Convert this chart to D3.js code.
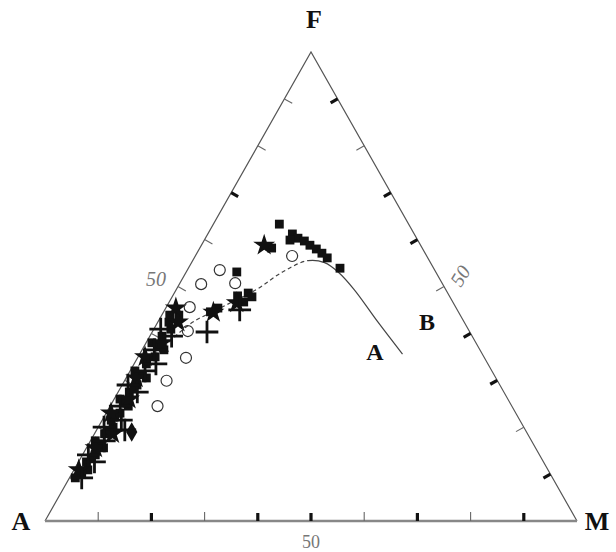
<!DOCTYPE html>
<html><head><meta charset="utf-8">
<script src="https://cdn.jsdelivr.net/npm/d3@7"></script>
<style>body{margin:0;background:#fff}svg{display:block}</style>
</head><body>
<svg id="c" width="616" height="552"></svg>
<script>
// Ternary data: F and M in percent (A = 100 - F - M)
const sqF = [9.2,10.9,12.6,14.1,15.6,17.1,18.6,20.0,21.5,23.0,24.5,26.0,27.5,29.0,30.5,32.0,33.5,35.0,36.5,38.0,39.4,40.9,42.4,43.9,43.9,
             10.0,13.4,16.4,19.3,22.2,25.2,28.2,31.2,34.2,37.2,
             44.6,45.4,48.0,48.6,47.8,46.7,53.1,
             63.3,61.2,60.3,59.7,58.8,58.0,57.1,56.1,53.9,59.9,58.2];
const sqM = [1.1,2.6,1.5,2.4,3.2,0.9,1.9,2.8,1.7,2.6,3.4,1.1,2.1,2.8,3.8,0.9,2.3,3.2,4.1,1.1,2.3,3.2,2.1,1.5,3.2,
             1.9,2.0,2.4,2.3,2.0,2.4,2.6,2.7,2.0,2.8,
             8.8,9.8,12.2,13.9,15.0,14.0,9.5,
             12.4,15.9,17.4,18.9,20.4,22.0,23.5,25.0,28.5,16.1,13.5];
const plusF = [9.2,12.6,14.1,17.1,20.0,21.5,24.5,27.5,29.0,32.0,33.5,36.5,39.4,40.9,40.3,45.0,19.4];
const plusM = [2.3,3.0,1.1,2.6,1.1,3.6,1.9,3.6,1.1,2.8,4.1,2.3,4.1,1.3,10.3,14.1,5.3];
const starF = [10.9,15.6,18.6,23.0,26.0,30.5,35.0,38.0,42.4,45.4,46.5,44.5,58.8];
const starM = [0.9,1.7,3.4,0.9,2.8,1.9,1.3,3.0,3.8,1.9,12.8,9.4,11.8];
const circF = [53.5,50.5,45.6,40.5,34.8,29.9,24.5,50.7,56.5];
const circM = [6.1,4.1,4.4,6.6,9.1,7.9,8.9,10.4,18.2];
const diaF = [19.0];
const diaM = [6.8];
// boundary curve (dashed up to the crest, solid after)
const curveF = [33.9,41.8,45.4,49.3,53.2,55.5,55.1,53.0,49.3,42.4,35.6];
const curveM = [2.7,6.1,10.2,15.0,18.2,21.6,25.0,28.7,33.5,41.4,49.4];
const curveDashEndM = 21.6;
const tickValues = [10,20,30,40,50,60,70,80,90];
const tickLabel = "50";
const vertexLabels = ["A","F","M"];
const fieldLabels = ["A","B"];
const fieldF = [36.0, 42.4];
const fieldM = [44.0, 50.6];

const svg = d3.select('#c');
const xs = d3.scaleLinear().domain([0,100]).range([45,577]);
const ys = d3.scaleLinear().domain([0,100]).range([521,52]);
const P = (f,m) => [xs(m + f/2), ys(f)];

// triangle
const pA = P(0,0), pF = P(100,0), pM = P(0,100);
svg.append('path').attr('d', d3.line()([pA,pF,pM])).attr('fill','none').attr('stroke','#555').attr('stroke-width',1.2);
svg.append('line').attr('x1',pA[0]).attr('y1',pA[1]).attr('x2',pM[0]).attr('y2',pM[1]).attr('stroke','#888').attr('stroke-width',2.4);

// ticks
const ex = pF[0]-pA[0], ey = pF[1]-pA[1], el = Math.hypot(ex,ey);
const nLeft = [Math.abs(ey)/el, Math.abs(ex)/el];
const nRight = [-Math.abs(ey)/el, Math.abs(ex)/el];
const boldBottom = new Set([20,40,50,70,90]);
const boldRight = new Set([90,70,60,40,30,10]);
const boldLeft = new Set([70]);
function tick(p, n, bold){
  const len = bold ? 8 : 9;
  svg.append('line').attr('x1',p[0]).attr('y1',p[1]).attr('x2',p[0]+n[0]*len).attr('y2',p[1]+n[1]*len)
    .attr('stroke', bold ? '#111' : '#666').attr('stroke-width', bold ? 3.2 : 1.1);
}
tickValues.forEach(t=>{
  tick(P(0,t),[0,-1],boldBottom.has(t));
  tick(P(t,0),nLeft,boldLeft.has(t));
  tick(P(t,100-t),nRight,boldRight.has(t));
});

// curve: one smooth path, dashed on the left limb
const cpts = curveF.map((f,i)=>P(f,curveM[i]));
const cpath = svg.append('path').attr('d', d3.line().curve(d3.curveCatmullRom)(cpts))
  .attr('fill','none').attr('stroke','#444').attr('stroke-width',1.2);
const node = cpath.node(), total = node.getTotalLength();
const splitX = P(curveF[curveM.indexOf(curveDashEndM)], curveDashEndM)[0];
let split = 0;
for (let s = 0; s <= total; s += 0.5){ if (node.getPointAtLength(s).x >= splitX){ split = s; break; } }
const dashes = [];
let acc = 0;
while (acc + 7 < split){ dashes.push(4,3); acc += 7; }
dashes.push(split - acc + 0.01, 0.01, total, 0);
cpath.attr('stroke-dasharray', dashes.join(','));

// symbols
function plot(Fs, Ms, type, size, opts){
  const g = svg.append('g');
  g.selectAll('path').data(Fs.map((f,i)=>P(f,Ms[i]))).join('path')
    .attr('transform', d=>`translate(${d[0]},${d[1]})`)
    .attr('d', d3.symbol().type(type).size(size))
    .attr('fill', opts.fill).attr('stroke', opts.stroke || 'none').attr('stroke-width', opts.sw || 0);
}
plot(sqF, sqM, d3.symbolSquare, 78, {fill:'#111'});
plot(starF, starM, d3.symbolStar, 150, {fill:'#111'});
plot(plusF, plusM, d3.symbolPlus, 170, {fill:'none', stroke:'#111', sw:2.8});
plot(diaF, diaM, d3.symbolDiamond, 110, {fill:'#111'});
svg.append('g').selectAll('circle').data(circF.map((f,i)=>P(f,circM[i]))).join('circle')
  .attr('cx',d=>d[0]).attr('cy',d=>d[1]).attr('r',5.5)
  .attr('fill','none').attr('stroke','#333').attr('stroke-width',1.2);

// labels
const bold = {'font-family':'Liberation Serif, serif','font-weight':'bold','font-size':'26px','fill':'#111'};
function txt(x,y,s,st,anchor,rot){
  const t = svg.append('text').attr('x',x).attr('y',y).text(s).attr('text-anchor',anchor||'middle');
  Object.entries(st).forEach(([k,v])=>t.style(k,v));
  if(rot) t.attr('transform',`rotate(${rot},${x},${y})`);
  return t;
}
txt(pA[0]-24, pA[1]+9, vertexLabels[0], bold);
txt(pF[0]+3, pF[1]-24, vertexLabels[1], bold);
txt(pM[0]+20, pM[1]+9, vertexLabels[2], bold);
const fl = {'font-family':'Liberation Serif, serif','font-weight':'bold','font-size':'24px','fill':'#111'};
fieldLabels.forEach((s,i)=>{ const p = P(fieldF[i], fieldM[i]); txt(p[0], p[1]+8, s, fl); });
const gl = {'font-family':'Liberation Serif, serif','font-style':'italic','font-size':'20px','fill':'#777'};
const l50 = P(50,0), r50 = P(50,50), b50 = P(0,50);
txt(l50[0]-22, l50[1]-1, tickLabel, gl);
txt(r50[0]+22, r50[1]-7, tickLabel, gl, 'middle', -58);
txt(b50[0], b50[1]+27, tickLabel, {'font-family':'Liberation Serif, serif','font-size':'18px','fill':'#777'});
</script>
</body></html>
